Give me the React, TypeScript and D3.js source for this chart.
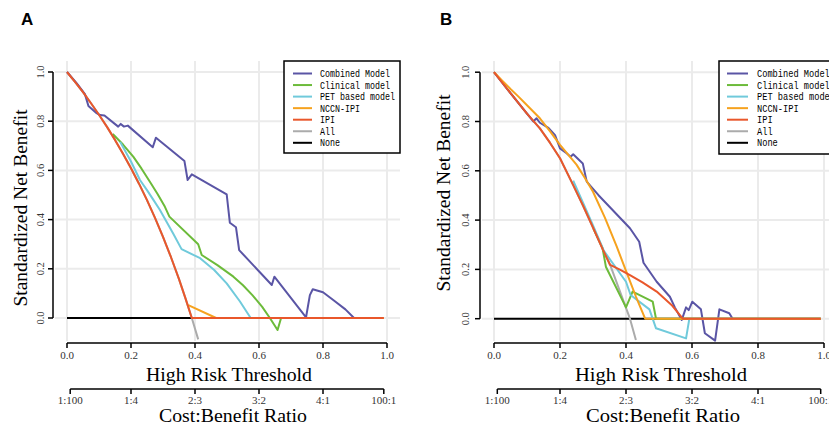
import React from 'react';
import * as d3 from 'd3';

type Pt = [number, number];

// axis ticks
const thresholdTicks = [0, 0.2, 0.4, 0.6, 0.8, 1];
const thresholdLabels = ['0.0', '0.2', '0.4', '0.6', '0.8', '1.0'];
const benefitTicks = [0, 0.2, 0.4, 0.6, 0.8, 1];
const benefitLabels = ['0.0', '0.2', '0.4', '0.6', '0.8', '1.0'];
const costTicks = [0.01, 0.2, 0.4, 0.6, 0.8, 0.99];
const costLabels = ['1:100', '1:4', '2:3', '3:2', '4:1', '100:1'];

const seriesNames = ['Combined Model', 'Clinical model', 'PET based model', 'NCCN-IPI', 'IPI', 'All', 'None'];
const seriesColors = ['#5a55a5', '#6cbb3a', '#70cadb', '#f6a21e', '#e9572b', '#ababab', '#000000'];
// None, All first, models on top, IPI last
const drawOrder = [6, 5, 0, 1, 2, 3, 4];

// ---- panel A (threshold, standardized net benefit)
const combinedA: Pt[] = [
  [0, 1], [0.03, 0.955], [0.056, 0.91], [0.067, 0.862], [0.09, 0.835], [0.103, 0.825],
  [0.117, 0.823], [0.16, 0.778], [0.168, 0.789], [0.178, 0.778], [0.19, 0.782],
  [0.268, 0.694], [0.278, 0.733], [0.367, 0.638], [0.377, 0.561], [0.39, 0.584],
  [0.499, 0.503], [0.509, 0.387], [0.528, 0.369], [0.538, 0.276], [0.64, 0.134],
  [0.648, 0.168], [0.747, 0.003], [0.759, 0.093], [0.768, 0.117], [0.8, 0.105],
  [0.832, 0.073], [0.87, 0.035], [0.897, 0],
];
const clinicalA: Pt[] = [
  [0.143, 0.748], [0.175, 0.705], [0.207, 0.656], [0.233, 0.607], [0.259, 0.554],
  [0.283, 0.504], [0.306, 0.452], [0.32, 0.412], [0.41, 0.3], [0.421, 0.256],
  [0.47, 0.215], [0.52, 0.168], [0.55, 0.133], [0.58, 0.092], [0.61, 0.045],
  [0.634, 0], [0.658, -0.049], [0.669, 0], [0.99, 0],
];
const petA: Pt[] = [
  [0.166, 0.716], [0.2, 0.636], [0.228, 0.561], [0.25, 0.52], [0.27, 0.48],
  [0.29, 0.44], [0.308, 0.398], [0.333, 0.34], [0.358, 0.28], [0.416, 0.243],
  [0.46, 0.195], [0.499, 0.141], [0.54, 0.068], [0.574, 0], [0.99, 0],
];
const nccnA: Pt[] = [[0.379, 0.052], [0.466, 0], [0.99, 0]];
const ipiA: Pt[] = [
  [0, 1], [0.025, 0.96], [0.05, 0.918], [0.075, 0.873], [0.1, 0.826], [0.125, 0.777],
  [0.15, 0.724], [0.175, 0.668], [0.2, 0.609], [0.225, 0.546], [0.25, 0.479],
  [0.275, 0.407], [0.3, 0.33], [0.325, 0.247], [0.35, 0.158], [0.37, 0.081],
  [0.39, 0], [0.99, 0],
];
const allA: Pt[] = [
  [0, 1], [0.025, 0.96], [0.05, 0.918], [0.075, 0.873], [0.1, 0.826], [0.125, 0.777],
  [0.15, 0.724], [0.175, 0.668], [0.2, 0.609], [0.225, 0.546], [0.25, 0.479],
  [0.275, 0.407], [0.3, 0.33], [0.325, 0.247], [0.35, 0.158], [0.37, 0.081],
  [0.39, 0], [0.41, -0.087],
];
const noneA: Pt[] = [[0, 0], [0.99, 0]];

// ---- panel B
const combinedB: Pt[] = [
  [0, 1], [0.05, 0.915], [0.1, 0.832], [0.119, 0.8], [0.129, 0.813], [0.139, 0.795],
  [0.165, 0.774], [0.185, 0.745], [0.2, 0.691], [0.22, 0.671], [0.232, 0.657],
  [0.24, 0.667], [0.269, 0.63], [0.281, 0.556], [0.316, 0.502], [0.412, 0.367],
  [0.44, 0.312], [0.453, 0.227], [0.493, 0.15], [0.533, 0.089], [0.548, 0.046],
  [0.569, -0.005], [0.582, 0.046], [0.59, 0.035], [0.601, 0.069], [0.627, 0.038],
  [0.639, -0.059], [0.67, -0.089], [0.683, 0.038], [0.713, 0.022], [0.723, 0],
];
const clinicalB: Pt[] = [
  [0.301, 0.367], [0.329, 0.286], [0.339, 0.211], [0.4, 0.046], [0.42, 0.11],
  [0.481, 0.069], [0.491, 0], [0.99, 0],
];
const petB: Pt[] = [
  [0.24, 0.56], [0.27, 0.47], [0.301, 0.375], [0.333, 0.275], [0.4, 0.15],
  [0.414, 0.096], [0.471, 0.038], [0.491, -0.039], [0.582, -0.08], [0.592, 0], [0.99, 0],
];
const nccnB: Pt[] = [
  [0, 1], [0.025, 0.966], [0.05, 0.932], [0.075, 0.9], [0.1, 0.866], [0.139, 0.813],
  [0.17, 0.76], [0.2, 0.705], [0.25, 0.625], [0.275, 0.572], [0.3, 0.515],
  [0.336, 0.41], [0.372, 0.292], [0.407, 0.17], [0.43, 0.09], [0.458, 0], [0.99, 0],
];
const ipiB: Pt[] = [
  [0, 1], [0.025, 0.958], [0.05, 0.915], [0.075, 0.874], [0.1, 0.832], [0.139, 0.772],
  [0.17, 0.713], [0.2, 0.651], [0.24, 0.542], [0.27, 0.458], [0.301, 0.367],
  [0.33, 0.28], [0.352, 0.218], [0.38, 0.2], [0.412, 0.177], [0.45, 0.147],
  [0.493, 0.11], [0.538, 0.056], [0.572, 0], [0.99, 0],
];
const allB: Pt[] = [
  [0, 1], [0.025, 0.958], [0.05, 0.915], [0.075, 0.874], [0.1, 0.832], [0.139, 0.772],
  [0.17, 0.713], [0.2, 0.651], [0.24, 0.542], [0.27, 0.458], [0.301, 0.367],
  [0.33, 0.28], [0.352, 0.218], [0.412, 0], [0.43, -0.086],
];
const noneB: Pt[] = [[0, 0], [0.99, 0]];

const panelA = [combinedA, clinicalA, petA, nccnA, ipiA, allA, noneA];
const panelB = [combinedB, clinicalB, petB, nccnB, ipiB, allB, noneB];

const SERIF = '"Liberation Serif", "Times New Roman", serif';
const MONO = '"Liberation Mono", "DejaVu Sans Mono", monospace';

const layoutA = {
  letter: 'A', letterX: 21, x0: 67, x1: 387, y0: 318, y1: 72,
  gridL: 55, gridR: 400, gridT: 61, gridB: 341,
  yAxisX: 53, xAxisY: 343, costAxisY: 389,
  yTitleX: 27, yTitleY: 208, yTickX: 44,
  titleLen: 166, costTitleLen: 148, costShift: 6,
  legL: 284, legR: 400, legT: 61, legB: 153, keyX1: 293, keyX2: 312, textX: 320, charW: 5,
};
const layoutB = {
  letter: 'B', letterX: 440, x0: 494, x1: 824, y0: 318.7, y1: 72.2,
  gridL: 482, gridR: 836, gridT: 61, gridB: 341,
  yAxisX: 480, xAxisY: 343, costAxisY: 389,
  yTitleX: 450, yTitleY: 193, yTickX: 468.5,
  titleLen: 172, costTitleLen: 154, costShift: 4,
  legL: 719, legR: 836, legT: 61, legB: 154, keyX1: 727, keyX2: 748, textX: 757, charW: 5.2,
};

function Panel({ lay, data }: { lay: typeof layoutA; data: Pt[][] }) {
  const x = d3.scaleLinear().domain([0, 1]).range([lay.x0, lay.x1]);
  const y = d3.scaleLinear().domain([0, 1]).range([lay.y0, lay.y1]);
  const line = d3.line<Pt>().x(d => x(d[0])).y(d => y(d[1]));
  const mid = x(0.5);

  return (
    <g>
      <text x={lay.letterX} y={25} fontFamily='"Liberation Sans", Arial, sans-serif'
        fontWeight='bold' fontSize={17}>{lay.letter}</text>

      {/* grid */}
      {thresholdTicks.map((t, i) => (
        <line key={'gv' + i} x1={x(t)} x2={x(t)} y1={lay.gridT} y2={lay.gridB}
          stroke='#ebebeb' strokeWidth={2} />
      ))}
      {benefitTicks.map((v, i) => (
        <line key={'gh' + i} x1={lay.gridL} x2={lay.gridR} y1={y(v)} y2={y(v)}
          stroke='#ebebeb' strokeWidth={2} />
      ))}

      {/* curves */}
      {drawOrder.map(k => (
        <path key={'c' + k} d={line(data[k]) || ''} fill='none'
          stroke={seriesColors[k]} strokeWidth={2} strokeLinejoin='round' />
      ))}

      {/* y axis */}
      <line x1={lay.yAxisX} x2={lay.yAxisX} y1={y(1)} y2={y(0)} stroke='#000' strokeWidth={1.5} />
      {benefitTicks.map((v, i) => (
        <g key={'yt' + i}>
          <line x1={lay.yAxisX - 5} x2={lay.yAxisX} y1={y(v)} y2={y(v)} stroke='#000' strokeWidth={1.5} />
          <text transform={`translate(${lay.yTickX},${y(v)}) rotate(-90)`} textAnchor='middle'
            fontFamily={SERIF} fontSize={10.5} fill='#333'>{benefitLabels[i]}</text>
        </g>
      ))}
      <text transform={`translate(${lay.yTitleX},${lay.yTitleY}) rotate(-90)`} textAnchor='middle'
        fontFamily={SERIF} fontSize={19.5}>Standardized Net Benefit</text>

      {/* threshold axis */}
      <line x1={x(0)} x2={x(1)} y1={lay.xAxisY} y2={lay.xAxisY} stroke='#000' strokeWidth={1.5} />
      {thresholdTicks.map((t, i) => (
        <g key={'xt' + i}>
          <line x1={x(t)} x2={x(t)} y1={lay.xAxisY} y2={lay.xAxisY + 5} stroke='#000' strokeWidth={1.5} />
          <text x={x(t)} y={358.5} textAnchor='middle' fontFamily={SERIF} fontSize={11} fill='#333'>
            {thresholdLabels[i]}
          </text>
        </g>
      ))}
      <text x={mid + 2} y={380.5} textAnchor='middle' fontFamily={SERIF} fontSize={19.5}
        textLength={lay.titleLen} lengthAdjust='spacingAndGlyphs'>High Risk Threshold</text>

      {/* cost:benefit axis */}
      <line x1={x(costTicks[0])} x2={x(costTicks[costTicks.length - 1])} y1={lay.costAxisY}
        y2={lay.costAxisY} stroke='#000' strokeWidth={1.5} />
      {costTicks.map((t, i) => (
        <g key={'ct' + i}>
          <line x1={x(t)} x2={x(t)} y1={lay.costAxisY} y2={lay.costAxisY + 5} stroke='#000' strokeWidth={1.5} />
          <text x={x(t)} y={404} textAnchor='middle' fontFamily={SERIF} fontSize={11} fill='#333'>
            {costLabels[i]}
          </text>
        </g>
      ))}
      <text x={mid + lay.costShift} y={422} textAnchor='middle' fontFamily={SERIF} fontSize={19.5}
        textLength={lay.costTitleLen} lengthAdjust='spacingAndGlyphs'>Cost:Benefit Ratio</text>

      {/* legend */}
      <rect x={lay.legL} y={lay.legT} width={lay.legR - lay.legL} height={lay.legB - lay.legT}
        fill='#fff' stroke='#000' strokeWidth={1.5} />
      {seriesNames.map((name, i) => {
        const ry = lay.legT + 12.5 + i * 11.55;
        return (
          <g key={'lg' + i}>
            <line x1={lay.keyX1} x2={lay.keyX2} y1={ry} y2={ry} stroke={seriesColors[i]} strokeWidth={2} />
            <text x={lay.textX} y={ry + 3.5} fontFamily={MONO} fontSize={10}
              textLength={name.length * lay.charW} lengthAdjust='spacingAndGlyphs'>{name}</text>
          </g>
        );
      })}
    </g>
  );
}

export default function App() {
  return (
    <svg width={829} height={433} style={{ position: 'absolute', left: 0, top: 0, background: '#fff' }}>
      <rect width={829} height={433} fill='#fff' />
      <Panel lay={layoutA} data={panelA} />
      <Panel lay={layoutB} data={panelB} />
    </svg>
  );
}
